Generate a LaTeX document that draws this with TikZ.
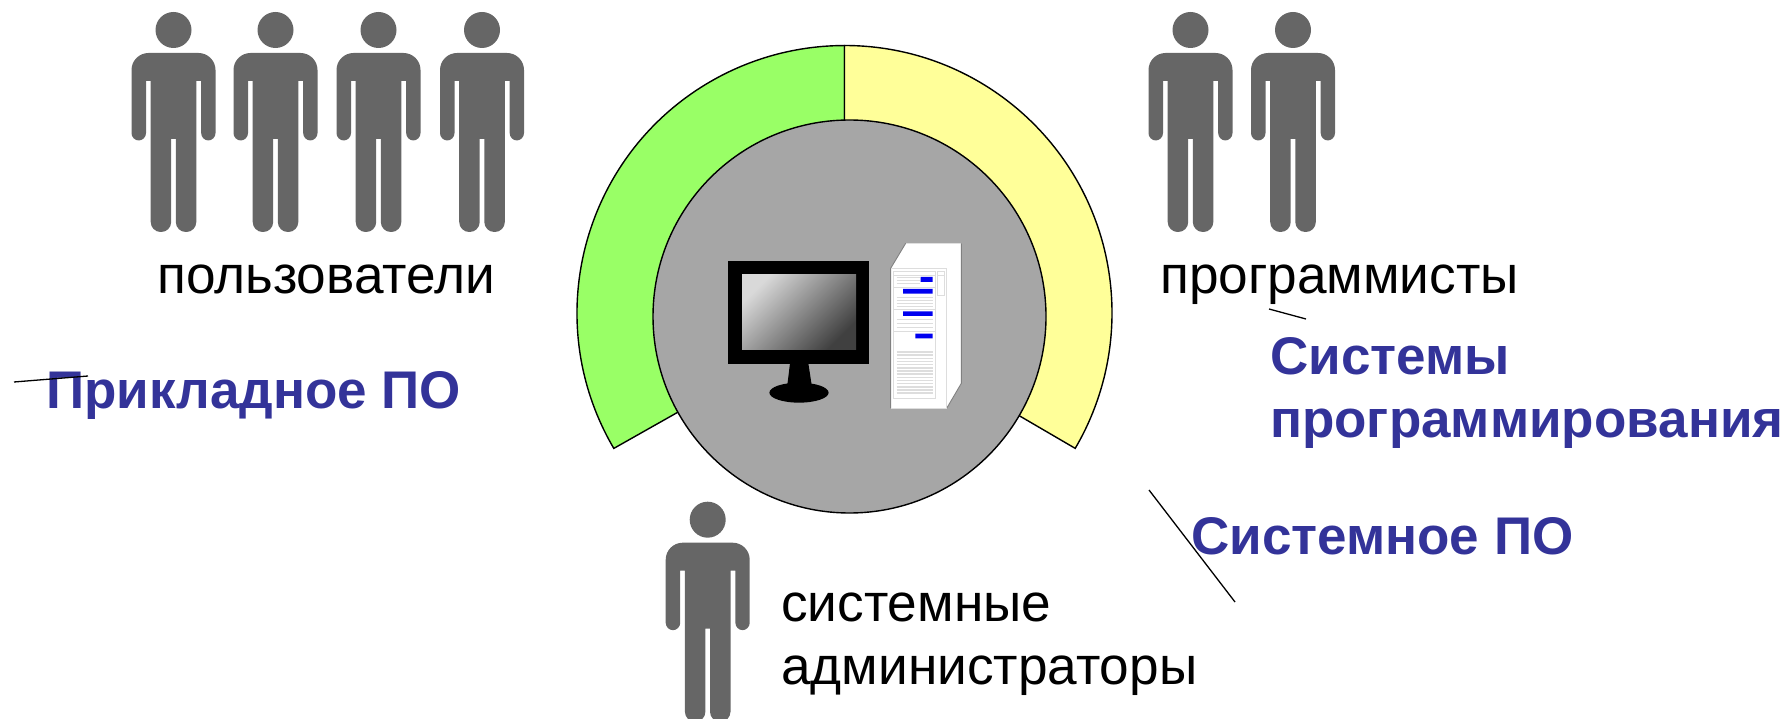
\documentclass[tikz,border=0pt]{standalone}
\usepackage{fontspec}
\setmainfont{Liberation Sans}
\definecolor{persongray}{HTML}{666666}
\definecolor{softgreen}{HTML}{99FF66}
\definecolor{softyellow}{HTML}{FFFF99}
\definecolor{disc}{HTML}{A6A6A6}
\definecolor{titleblue}{HTML}{333399}
\definecolor{panelline}{HTML}{DDDDDD}
\definecolor{barblue}{HTML}{0000F0}
\tikzset{
  x=1pt,y=-1pt,
  plain/.style={font=\fontsize{53.2}{63}\selectfont,anchor=base west,inner sep=0pt,align=left,text=black},
  heading/.style={font=\fontsize{53}{63}\selectfont\bfseries,anchor=base west,inner sep=0pt,align=left,text=titleblue},
  sector/.style={draw=black,line width=1.4pt},
  stray/.style={draw=black,line width=1.3pt},
  pics/figure/.style={code={
    \fill[persongray] (0,18) circle[radius=18pt];
    \fill[persongray] (-42,100) [rounded corners=17pt] -- (-42,41) -- (42,41) [rounded corners=7.4pt] -- (42,128.5) -- (27.7,128.5) [sharp corners] -- (27.7,69) -- (22.8,69) [rounded corners=10pt] -- (22.8,220) -- (2.3,220) [sharp corners] -- (2.3,127) -- (-2.3,127) [rounded corners=10pt] -- (-2.3,220) -- (-22.8,220) [sharp corners] -- (-22.8,69) -- (-27.5,69) [rounded corners=7.4pt] -- (-27.5,128.5) -- (-42,128.5) [sharp corners] -- cycle;
  }}
}
\begin{document}
\begin{tikzpicture}
\useasboundingbox (0,0) rectangle (1788,719);
% people
\pic at (173.5,12) {figure};
\pic at (275.5,12) {figure};
\pic at (378.5,12) {figure};
\pic at (482,12) {figure};
\pic at (1190.5,12) {figure};
\pic at (1293,12) {figure};
\pic at (707.7,501.7) {figure};
% sectors
\coordinate (gl) at (613.8,448.4);
\coordinate (gr) at (844.5,45.5);
\coordinate (ct) at (844.5,125);
\coordinate (il) at (680,411);
\coordinate (ir) at (1018,415);
\path[fill=softgreen,sector] (gl) arc[start angle=210.4,end angle=90,radius=267.5pt] -- (ct) -- (il) -- cycle;
\path[fill=softyellow,sector] (gr) arc[start angle=90,end angle=-30.4,radius=267.5pt] -- (ir) -- (ct) -- cycle;
\path[fill=disc,sector] (849.5,316.5) circle[radius=196.5pt];
% monitor and tower, in crop coordinates
\begin{scope}[shift={(700,220)},x=.33333pt,y=-.33333pt]
  \fill[black] (85,122) rectangle (508,433);
  \fill[black] (270,430) -- (325,430) -- (335,495) -- (262,495) -- cycle;
  \fill[black] (297,518) ellipse[x radius=29.6pt,y radius=10pt];
  \shade[top color=white!85!black,bottom color=black!75,shading angle=45] (126,165) rectangle (468,388);
  \fill[white] (572,145) -- (617,70) -- (784,70) -- (784,490) -- (740,565) -- (572,565) -- cycle;
  \draw[black!50,line width=.9pt] (572,565) -- (572,145) -- (617,70);
  \draw[black!50,line width=.9pt] (784,70) -- (784,490) -- (740,565);
  \draw[panelline,line width=.9pt] (572,145) -- (740,145) -- (740,565) -- (572,565);
  \draw[panelline,line width=.9pt] (580,153) rectangle (707,535);
  \draw[panelline,line width=.9pt] (580,165) -- (707,165) (580,201) -- (707,201) (580,268) -- (707,268) (580,334) -- (707,334);
  \draw[panelline,line width=.9pt] (712,153) rectangle (734,227) (712,165) -- (734,165);
  \fill[barblue] (662,171) rectangle (698,186) (609,207) rectangle (698,221) (609,274) rectangle (698,288) (646,341) rectangle (698,355);
  \draw[panelline,line width=1.6pt] (590,173) -- (660,173) (590,182) -- (660,182) (590,191) -- (660,191);
  \foreach \yy in {232,241,250,259,298,310,323} \draw[panelline,line width=1.6pt] (590,\yy) -- (698,\yy);
  \foreach \yy in {396,405.5,415,424.5,434,443.5,453,462.5,472,481.5,491,500.5,510,519} \draw[panelline,line width=1.6pt] (590,\yy) -- (698,\yy);
\end{scope}
% labels
\node[plain] (users) at (157,294) {пользователи};
\node[plain] (coders) at (1160,294) {программисты};
\node[plain] (admins) at (781,684) {системные\\администраторы};
\node[heading] (app) at (46,408) {Прикладное ПО};
\node[heading] (sysprog) at (1270,437) {Системы\\программирования};
\node[heading] (sys) at (1191,554) {Системное ПО};
% stray strokes
\coordinate (a1) at (14,382); \coordinate (a2) at (88,376);
\coordinate (b1) at (1269,309); \coordinate (b2) at (1306,319);
\coordinate (c1) at (1149,490); \coordinate (c2) at (1235,602);
\draw[stray] (a1) -- (a2);
\draw[stray] (b1) -- (b2);
\draw[stray] (c1) -- (c2);
\end{tikzpicture}
\end{document}
